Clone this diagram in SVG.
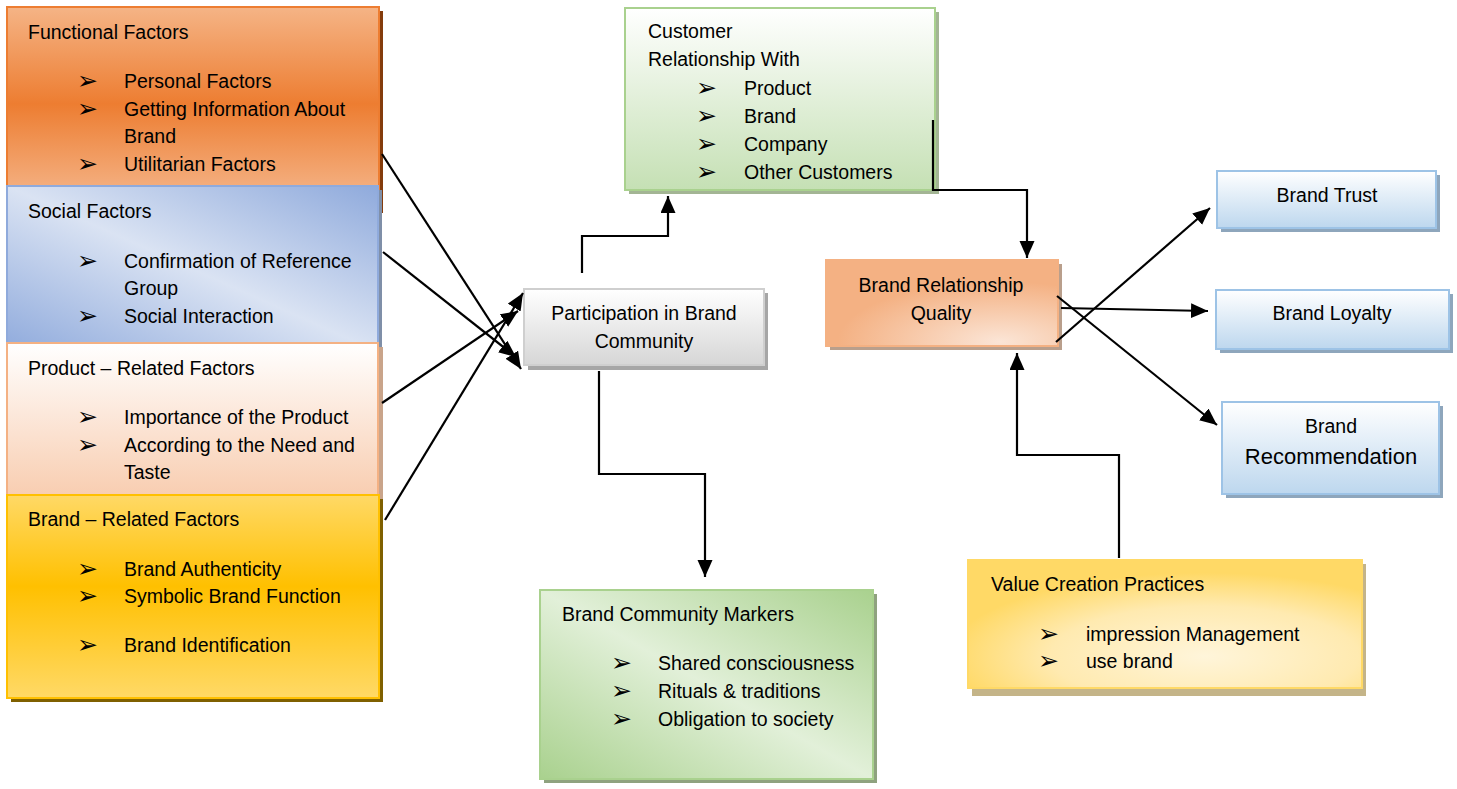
<svg xmlns="http://www.w3.org/2000/svg" width="1457" height="789" viewBox="0 0 1457 789">
  <defs>
    <style>
      .t { font-family: "Liberation Sans", Arial, sans-serif; font-size: 19.5px; fill: #000; }
      .c { text-anchor: middle; }
      .big { font-size: 22px; }
      .bl { font-family: "DejaVu Sans", sans-serif; font-size: 25px; fill: #000; }
      .conn { fill: none; stroke: #000; stroke-width: 2.2; marker-end: url(#ah); }
    </style>
    <marker id="ah" markerUnits="userSpaceOnUse" markerWidth="20" markerHeight="18" refX="17" refY="7.5" orient="auto">
      <path d="M0,0 L17,7.5 L0,15 Z" fill="#000"/>
    </marker>
    <linearGradient id="gOrange" x1="0" y1="0" x2="0" y2="1">
      <stop offset="0" stop-color="#F5B486"/>
      <stop offset="0.48" stop-color="#ED7D31"/>
      <stop offset="0.92" stop-color="#F4B183"/>
    </linearGradient>
    <linearGradient id="gBlue" x1="1" y1="0" x2="0" y2="1">
      <stop offset="0" stop-color="#8FAADC"/>
      <stop offset="0.5" stop-color="#DAE3F3"/>
      <stop offset="1" stop-color="#8FAADC"/>
    </linearGradient>
    <linearGradient id="gPeach" x1="0" y1="0" x2="0" y2="1">
      <stop offset="0" stop-color="#FFFFFF"/>
      <stop offset="0.85" stop-color="#F8CBAD"/>
    </linearGradient>
    <linearGradient id="gGold" x1="0" y1="0" x2="0" y2="1">
      <stop offset="0" stop-color="#FFD966"/>
      <stop offset="0.45" stop-color="#FFC000"/>
      <stop offset="1" stop-color="#FFD966"/>
    </linearGradient>
    <linearGradient id="gGreenV" x1="0" y1="0" x2="0" y2="1">
      <stop offset="0" stop-color="#FFFFFF"/>
      <stop offset="1" stop-color="#C5E0B4"/>
    </linearGradient>
    <linearGradient id="gGray" x1="0" y1="0" x2="0" y2="1">
      <stop offset="0" stop-color="#FFFFFF"/>
      <stop offset="1" stop-color="#D6D6D6"/>
    </linearGradient>
    <linearGradient id="gGreenD" x1="1" y1="0" x2="0" y2="1">
      <stop offset="0" stop-color="#A9D18E"/>
      <stop offset="0.5" stop-color="#E2F0D9"/>
      <stop offset="1" stop-color="#A9D18E"/>
    </linearGradient>
    <radialGradient id="gSalmon" cx="0.75" cy="0.95" r="0.7">
      <stop offset="0" stop-color="#FBE5D6"/>
      <stop offset="1" stop-color="#F4B183"/>
    </radialGradient>
    <linearGradient id="gSky" x1="0" y1="0" x2="0" y2="1">
      <stop offset="0" stop-color="#FFFFFF"/>
      <stop offset="1" stop-color="#BDD7EE"/>
    </linearGradient>
    <radialGradient id="gCream" cx="0.6" cy="0.75" r="0.65">
      <stop offset="0" stop-color="#FFF5DA"/>
      <stop offset="0.6" stop-color="#FFEAB0"/>
      <stop offset="1" stop-color="#FFD966"/>
    </radialGradient>
  </defs>

  <rect width="1457" height="789" fill="#FFFFFF"/>

  <!-- left column: four stacked factor boxes -->
  <g id="functional-factors">
    <rect x="11" y="11" width="372" height="202" fill="#843C0C"/>
    <rect x="7" y="7" width="372" height="202" fill="url(#gOrange)" stroke="#ED7D31" stroke-width="2"/>
    <text class="t" x="28" y="39">Functional Factors</text>
    <text class="bl" x="77" y="89">➢</text>
    <text class="t" x="124" y="88">Personal Factors</text>
    <text class="bl" x="77" y="117">➢</text>
    <text class="t" x="124" y="116">Getting Information About</text>
    <text class="t" x="124" y="143">Brand</text>
    <text class="bl" x="77" y="172">➢</text>
    <text class="t" x="124" y="171">Utilitarian Factors</text>
  </g>

  <g id="social-factors">
    <rect x="11" y="190" width="371" height="166" fill="#7F8FA8"/>
    <rect x="7" y="186" width="371" height="166" fill="url(#gBlue)" stroke="#8FAADC" stroke-width="2"/>
    <text class="t" x="28" y="218">Social Factors</text>
    <text class="bl" x="77" y="269">➢</text>
    <text class="t" x="124" y="268">Confirmation of Reference</text>
    <text class="t" x="124" y="295">Group</text>
    <text class="bl" x="77" y="324">➢</text>
    <text class="t" x="124" y="323">Social Interaction</text>
  </g>

  <g id="product-factors">
    <rect x="11" y="347" width="372" height="188" fill="#C9A48A"/>
    <rect x="7" y="343" width="371" height="188" fill="url(#gPeach)" stroke="#F4B183" stroke-width="2"/>
    <text class="t" x="28" y="375">Product – Related Factors</text>
    <text class="bl" x="77" y="425">➢</text>
    <text class="t" x="124" y="424">Importance of the Product</text>
    <text class="bl" x="77" y="453">➢</text>
    <text class="t" x="124" y="452">According to the Need and</text>
    <text class="t" x="124" y="479">Taste</text>
  </g>

  <g id="brand-factors">
    <rect x="11" y="499" width="372" height="203" fill="#7F6000"/>
    <rect x="7" y="495" width="372" height="203" fill="url(#gGold)" stroke="#FFC000" stroke-width="2"/>
    <text class="t" x="28" y="526">Brand – Related Factors</text>
    <text class="bl" x="77" y="577">➢</text>
    <text class="t" x="124" y="576">Brand Authenticity</text>
    <text class="bl" x="77" y="604">➢</text>
    <text class="t" x="124" y="603">Symbolic Brand Function</text>
    <text class="bl" x="77" y="653">➢</text>
    <text class="t" x="124" y="652">Brand Identification</text>
  </g>

  <!-- centre column -->
  <g id="customer-relationship">
    <rect x="629" y="12" width="310" height="182" fill="#A3B594"/>
    <rect x="625" y="8" width="310" height="182" fill="url(#gGreenV)" stroke="#A9D18E" stroke-width="2"/>
    <text class="t" x="648" y="38">Customer</text>
    <text class="t" x="648" y="66">Relationship With</text>
    <text class="bl" x="696" y="96">➢</text>
    <text class="t" x="744" y="95">Product</text>
    <text class="bl" x="696" y="124">➢</text>
    <text class="t" x="744" y="123">Brand</text>
    <text class="bl" x="696" y="152">➢</text>
    <text class="t" x="744" y="151">Company</text>
    <text class="bl" x="696" y="180">➢</text>
    <text class="t" x="744" y="179">Other Customers</text>
  </g>

  <g id="participation">
    <rect x="528" y="293" width="240" height="77" fill="#A6A6A6"/>
    <rect x="524" y="289" width="240" height="76" fill="url(#gGray)" stroke="#CFCFCF" stroke-width="2"/>
    <text class="t c" x="644" y="320">Participation in Brand</text>
    <text class="t c" x="644" y="348">Community</text>
  </g>

  <g id="community-markers">
    <rect x="544" y="594" width="333" height="189" fill="#8FA27F"/>
    <rect x="540" y="590" width="333" height="189" fill="url(#gGreenD)" stroke="#A9D18E" stroke-width="2"/>
    <text class="t" x="562" y="621">Brand Community Markers</text>
    <text class="bl" x="611" y="671">➢</text>
    <text class="t" x="658" y="670">Shared consciousness</text>
    <text class="bl" x="611" y="699">➢</text>
    <text class="t" x="658" y="698">Rituals &amp; traditions</text>
    <text class="bl" x="611" y="727">➢</text>
    <text class="t" x="658" y="726">Obligation to society</text>
  </g>

  <!-- right side -->
  <g id="relationship-quality">
    <rect x="830" y="264" width="232" height="86" fill="#B99F8C"/>
    <rect x="826" y="260" width="232" height="86" fill="url(#gSalmon)" stroke="#F4B183" stroke-width="2"/>
    <text class="t c" x="941" y="292">Brand Relationship</text>
    <text class="t c" x="941" y="320">Quality</text>
  </g>

  <g id="brand-trust">
    <rect x="1221" y="175" width="219" height="57" fill="#8EA6BC"/>
    <rect x="1217" y="171" width="219" height="57" fill="url(#gSky)" stroke="#9DC3E6" stroke-width="2"/>
    <text class="t c" x="1327" y="202">Brand Trust</text>
  </g>

  <g id="brand-loyalty">
    <rect x="1220" y="294" width="233" height="59" fill="#8EA6BC"/>
    <rect x="1216" y="290" width="233" height="59" fill="url(#gSky)" stroke="#9DC3E6" stroke-width="2"/>
    <text class="t c" x="1332" y="320">Brand Loyalty</text>
  </g>

  <g id="brand-recommendation">
    <rect x="1226" y="406" width="217" height="92" fill="#8EA6BC"/>
    <rect x="1222" y="402" width="217" height="92" fill="url(#gSky)" stroke="#9DC3E6" stroke-width="2"/>
    <text class="t c" x="1331" y="433">Brand</text>
    <text class="t c big" x="1331" y="464">Recommendation</text>
  </g>

  <g id="value-creation">
    <rect x="972" y="564" width="394" height="132" fill="#C4B488"/>
    <rect x="968" y="560" width="394" height="128" fill="url(#gCream)" stroke="#FFD966" stroke-width="2"/>
    <text class="t" x="991" y="591">Value Creation Practices</text>
    <text class="bl" x="1038" y="642">➢</text>
    <text class="t" x="1086" y="641">impression Management</text>
    <text class="bl" x="1038" y="669">➢</text>
    <text class="t" x="1086" y="668">use brand</text>
  </g>

  <!-- connectors -->
  <g id="connectors">
    <path class="conn" d="M382,154 L521,369"/>
    <path class="conn" d="M383,252 L516,357"/>
    <path class="conn" d="M382,403 L518,311"/>
    <path class="conn" d="M385,520 L523,293"/>
    <path class="conn" d="M582,273 V236 H668 V196"/>
    <path class="conn" d="M599,371 V474 H705 V577"/>
    <path class="conn" d="M933,120 V190 H1027 V258"/>
    <path class="conn" d="M1056,342 L1210,208"/>
    <path class="conn" d="M1061,308 L1208,311"/>
    <path class="conn" d="M1057,296 L1217,425"/>
    <path class="conn" d="M1119,558 V455 H1017 V353"/>
  </g>
</svg>
